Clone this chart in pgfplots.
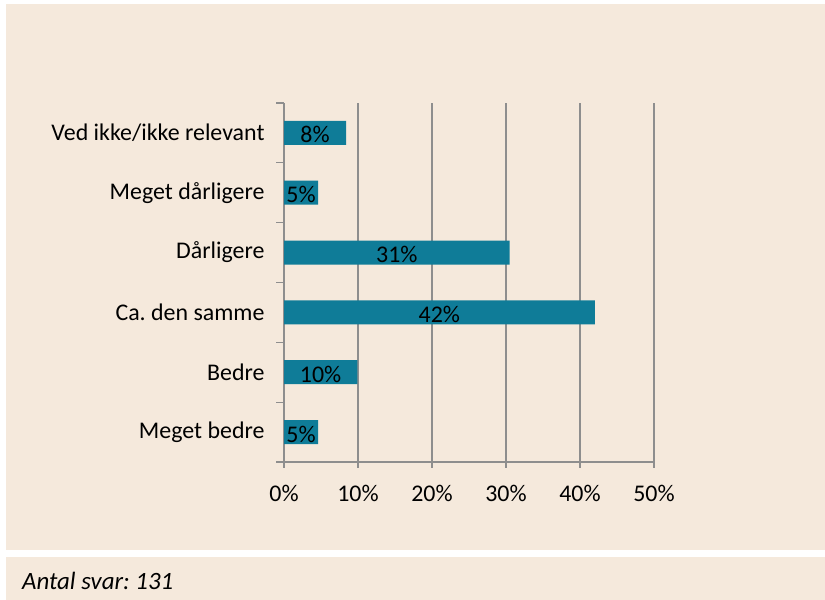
\documentclass[border=0pt]{standalone}
\usepackage{fontspec}
\setmainfont{Carlito}
\usepackage{pgfplots}
\usepackage{pgfplotstable}
\pgfplotsset{compat=1.18}

\definecolor{bg}{HTML}{F5E9DC}
\definecolor{barcol}{HTML}{0F7C98}
\definecolor{gridgray}{HTML}{8E8E8E}

\pgfplotstableread{
y x lab
0 4.6 5
1 9.9 10
2 42.0 42
3 30.5 31
4 4.6 5
5 8.4 8
}\answers

\begin{document}
\frenchspacing
\begin{tikzpicture}[x=1bp,y=1bp]
\fill[white] (0,0) rectangle (825,600);
\path[use as bounding box] (0,0) rectangle (825,600);
\fill[bg] (6,50) rectangle (825,596);
\fill[bg] (6,0) rectangle (825,43);
\node[anchor=base west, inner sep=0pt, font=\fontsize{25}{28}\selectfont\itshape] at (22,10) {Antal svar: 131};

\begin{axis}[
    at={(284bp,138bp)}, anchor=south west,
    scale only axis,
    width=370bp, height=359bp,
    xmin=0, xmax=50,
    ymin=-0.5, ymax=5.5,
    xtick={0,10,...,50},
    xticklabel={\pgfmathprintnumber{\tick}\%},
    ytick={0,...,5},
    yticklabels={Meget bedre, Bedre, Ca. den samme, Dårligere, Meget dårligere, Ved ikke/ikke relevant},
    minor ytick={-0.5,0.5,...,5.5},
    major y tick style={draw=none},
    tick align=outside,
    major tick length=6bp,
    minor tick length=8bp,
    tick style={gridgray, line width=1.3bp},
    every minor tick/.append style={gridgray, line width=1.3bp},
    xmajorgrids,
    grid style={gridgray, line width=1.3bp},
    axis x line*=bottom,
    axis y line*=left,
    axis line style={gridgray, line width=1.3bp, -},
    /pgf/number format/assume math mode=true,
    ticklabel style={font=\fontsize{24}{28}\selectfont},
    xticklabel style={yshift=-14bp},
    yticklabel style={xshift=-10bp},
    xbar, bar width=24bp,
    nodes near coords={\pgfmathprintnumber{\pgfplotspointmeta}\%},
    visualization depends on={x \as \rawx},
    every node near coord/.append style={font=\fontsize{24}{28}\selectfont, anchor=center,
        shift={(axis direction cs:-\rawx/2,0)}, yshift=-2bp},
]
\addplot[fill=barcol, draw=none, point meta=explicit] table[x=x, y=y, meta=lab] {\answers};
\end{axis}
\end{tikzpicture}
\end{document}
